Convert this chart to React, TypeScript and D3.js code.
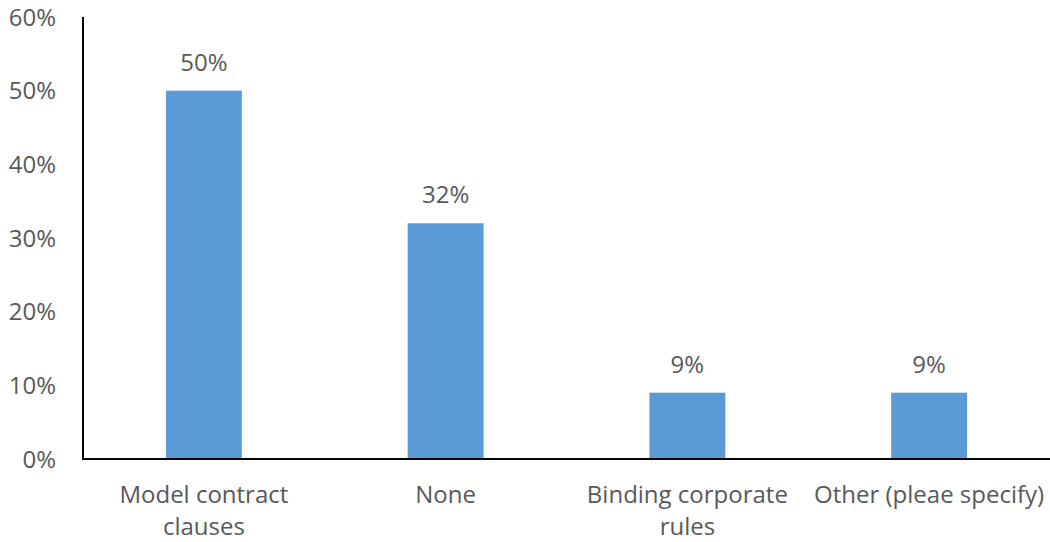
import React, { useEffect, useRef } from "react";
import * as d3 from "d3";

const categories = [
  "Model contract clauses",
  "None",
  "Binding corporate rules",
  "Other (pleae specify)",
];
const values = [0.5, 0.32, 0.09, 0.09];
const yTicks = [0, 0.1, 0.2, 0.3, 0.4, 0.5, 0.6];

const W = 1050;
const H = 542;
const M = { left: 83, right: 0, top: 17, bottom: 82 };
const FONT = "'Open Sans', 'DejaVu Sans', sans-serif";
const TEXT = "#595959";
const BAR = "#5B9BD5";

export default function App() {
  const ref = useRef<SVGSVGElement>(null);

  useEffect(() => {
    const svg = d3.select(ref.current);
    svg.selectAll("*").remove();

    const x = d3
      .scaleBand<string>()
      .domain(categories)
      .range([M.left, W - M.right])
      .padding(0);
    const y = d3
      .scaleLinear()
      .domain([0, 0.6])
      .range([H - M.bottom - 1, M.top]);

    const barW = x.bandwidth() * 0.314;
    const fmt = d3.format(".0%");

    svg
      .append("g")
      .selectAll("text")
      .data(yTicks)
      .join("text")
      .attr("x", M.left - 27)
      .attr("y", (d) => y(d))
      .attr("dy", "0.36em")
      .attr("text-anchor", "end")
      .attr("font-family", FONT)
      .attr("font-size", 24)
      .attr("fill", TEXT)
      .text((d) => fmt(d));

    svg
      .append("g")
      .selectAll("rect")
      .data(values)
      .join("rect")
      .attr("x", (_, i) => x(categories[i])! + x.bandwidth() / 2 - barW / 2)
      .attr("y", (d) => y(d))
      .attr("width", barW)
      .attr("height", (d) => y(0) - y(d))
      .attr("fill", BAR);

    svg
      .append("g")
      .selectAll("text")
      .data(values)
      .join("text")
      .attr("x", (_, i) => x(categories[i])! + x.bandwidth() / 2)
      .attr("y", (d) => y(d) - 20)
      .attr("text-anchor", "middle")
      .attr("font-family", FONT)
      .attr("font-size", 24)
      .attr("fill", TEXT)
      .text((d) => fmt(d));

    svg
      .append("line")
      .attr("x1", M.left)
      .attr("x2", M.left)
      .attr("y1", M.top)
      .attr("y2", y(0) + 1)
      .attr("stroke", "#000")
      .attr("stroke-width", 2);
    svg
      .append("line")
      .attr("x1", M.left)
      .attr("x2", W)
      .attr("y1", y(0))
      .attr("y2", y(0))
      .attr("stroke", "#000")
      .attr("stroke-width", 2);

    const maxW = x.bandwidth();
    const g = svg.append("g");
    categories.forEach((c) => {
      const t = g
        .append("text")
        .attr("text-anchor", "middle")
        .attr("font-family", FONT)
        .attr("font-size", 24)
        .attr("fill", TEXT);
      const cx = x(c)! + x.bandwidth() / 2;
      const words = c.split(" ");
      let line: string[] = [];
      let lineNo = 0;
      let tspan = t.append("tspan").attr("x", cx).attr("y", 503);
      words.forEach((w) => {
        line.push(w);
        tspan.text(line.join(" "));
        if ((tspan.node() as SVGTSpanElement).getComputedTextLength() > maxW && line.length > 1) {
          line.pop();
          tspan.text(line.join(" "));
          line = [w];
          lineNo++;
          tspan = t
            .append("tspan")
            .attr("x", cx)
            .attr("y", 503 + lineNo * 32)
            .text(w);
        }
      });
    });
  }, []);

  return (
    <svg
      ref={ref}
      width={W}
      height={H}
      style={{ position: "absolute", left: 0, top: 0, background: "#fff" }}
    />
  );
}
